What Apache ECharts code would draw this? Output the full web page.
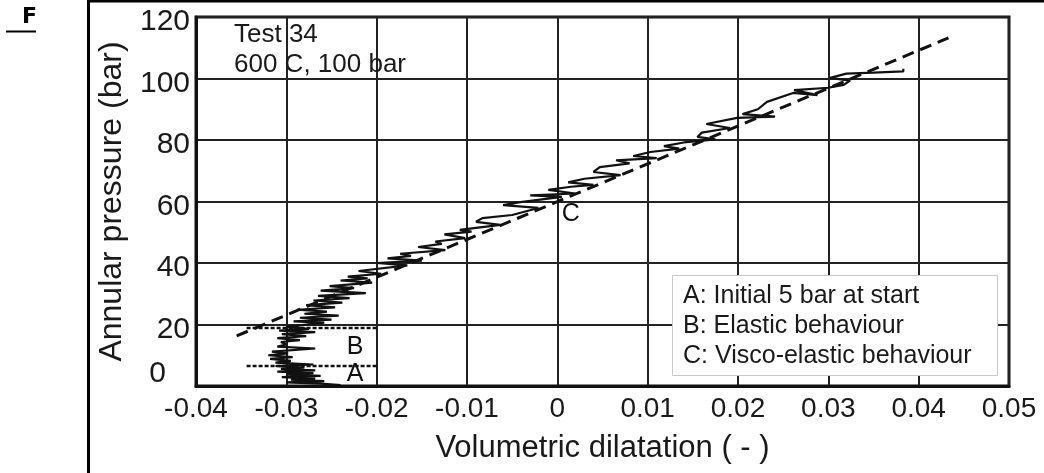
<!DOCTYPE html>
<html>
<head>
<meta charset="utf-8">
<script src="https://cdn.jsdelivr.net/npm/echarts@6/dist/echarts.min.js"></script>
<style>
html,body{margin:0;padding:0;background:#fff;}
#chart{width:1044px;height:473px;}
</style>
</head>
<body>
<div id="chart"></div>
<script>
// ---- data ----
const xTicks = [-0.04, -0.03, -0.02, -0.01, 0, 0.01, 0.02, 0.03, 0.04, 0.05];
const yTicks = [0, 20, 40, 60, 80, 100, 120];
const xTitle = 'Volumetric dilatation ( - )';
const yTitle = 'Annular pressure (bar)';
// measured curve: [volumetric dilatation, annular pressure]
const measuredCurve = [
  [-0.0240, 0.3], [-0.0262, 0.8], [-0.0300, 1.2], [-0.0258, 1.6], [-0.0295, 2.1],
  [-0.0268, 2.4], [-0.0305, 2.9], [-0.0262, 3.3], [-0.0300, 3.8], [-0.0270, 4.2],
  [-0.0310, 4.7], [-0.0268, 5.1], [-0.0306, 5.6], [-0.0280, 6.0], [-0.0312, 6.5],
  [-0.0270, 7.0], [-0.0312, 7.6], [-0.0295, 8.2], [-0.0318, 8.8], [-0.0293, 9.4],
  [-0.0320, 10.0], [-0.0298, 10.6], [-0.0316, 11.2], [-0.0268, 12.2], [-0.0310, 12.8],
  [-0.0300, 13.5], [-0.0306, 14.3], [-0.0285, 14.9], [-0.0310, 15.6], [-0.0278, 16.2],
  [-0.0305, 16.9], [-0.0268, 17.5], [-0.0308, 18.0], [-0.0275, 18.6], [-0.0300, 19.2],
  [-0.0258, 20.6], [-0.0292, 21.0], [-0.0250, 21.6], [-0.0285, 22.2], [-0.0242, 22.9],
  [-0.0280, 23.5], [-0.0255, 24.2], [-0.0288, 24.8], [-0.0246, 25.6], [-0.0278, 26.3],
  [-0.0238, 27.1], [-0.0270, 27.8], [-0.0230, 28.6], [-0.0265, 29.3], [-0.0212, 30.2],
  [-0.0262, 31.0], [-0.0225, 31.8], [-0.0252, 32.5], [-0.0205, 33.6], [-0.0240, 34.3],
  [-0.0210, 35.0], [-0.0232, 35.6], [-0.0195, 36.5], [-0.0220, 37.4], [-0.0166, 39.2],
  [-0.0200, 40.0], [-0.0150, 40.8], [-0.0188, 41.5], [-0.0162, 42.3], [-0.0174, 43.0],
  [-0.0124, 44.2], [-0.0154, 45.2], [-0.0128, 46.2], [-0.0135, 47.0], [-0.0102, 48.1],
  [-0.0125, 49.3], [-0.0095, 50.2], [-0.0108, 50.8], [-0.0063, 52.4], [-0.0090, 53.4],
  [-0.0083, 54.6], [-0.0050, 55.6], [-0.0021, 57.9], [-0.0060, 58.8], [-0.0041, 59.8],
  [0.0005, 61.5], [-0.0030, 62.0], [0.0020, 62.6], [-0.0010, 63.8], [0.0015, 64.8],
  [0.0040, 65.4], [0.0012, 66.2], [0.0030, 67.4], [0.0070, 68.6], [0.0040, 69.6],
  [0.0047, 71.2], [0.0080, 72.4], [0.0065, 73.4], [0.0110, 74.1], [0.0084, 74.8],
  [0.0103, 76.1], [0.0135, 77.2], [0.0118, 78.0], [0.0140, 79.2], [0.0175, 80.2],
  [0.0155, 81.0], [0.0160, 82.4], [0.0191, 83.9], [0.0165, 85.2], [0.0199, 87.2],
  [0.0241, 87.6], [0.0205, 88.4], [0.0222, 90.0], [0.0232, 92.4], [0.0261, 95.3],
  [0.0288, 94.6], [0.0262, 96.2], [0.0300, 97.0], [0.0317, 97.9], [0.0324, 99.3],
  [0.0302, 100.2], [0.0320, 101.6], [0.0350, 101.9], [0.0383, 102.3], [0.0383, 103.2]
];
const trendLine = [[-0.0355, 16.3], [0.0433, 113.2]];
const boundaryB = [[-0.0344, 18.9], [-0.0198, 18.9]];
const boundaryA = [[-0.0344, 6.5], [-0.0198, 6.5]];
const regionLabels = [[-0.0224, 3.9, 'A'], [-0.0224, 12.7, 'B'], [0.0015, 55.8, 'C']];
const legendLines = ['A: Initial 5 bar at start', 'B: Elastic behaviour', 'C: Visco-elastic behaviour'];
const testInfo = ['Test 34', '600 C, 100 bar'];
const panelLetter = 'F';

// ---- chart ----
const FONT = '"Liberation Sans", Arial, Helvetica, sans-serif';
const INK = '#1a1a1a';
const chart = echarts.init(document.getElementById('chart'), null, {renderer: 'canvas'});
const fmtX = v => { const r = Math.round(v * 100) / 100; return r === 0 ? '0' : String(r); };

const option = {
  animation: false,
  backgroundColor: '#fff',
  grid: {left: 196, top: 17, width: 813, height: 369, show: true, borderColor: '#111', borderWidth: 3, backgroundColor: 'transparent'},
  xAxis: {
    type: 'value', min: xTicks[0], max: xTicks[xTicks.length - 1], interval: 0.01,
    name: xTitle, nameLocation: 'middle', nameGap: 47,
    nameTextStyle: {fontFamily: FONT, fontSize: 31, color: INK},
    axisLine: {show: true, onZero: false, lineStyle: {color: '#111', width: 3}},
    axisTick: {show: false},
    splitLine: {show: true, lineStyle: {color: '#222', width: 2}},
    axisLabel: {fontFamily: FONT, fontSize: 28, color: INK, margin: 9, formatter: fmtX, showMinLabel: true, showMaxLabel: true}
  },
  yAxis: {
    type: 'value', min: yTicks[0], max: yTicks[yTicks.length - 1], interval: 20,
    name: yTitle, nameLocation: 'middle', nameGap: 68,
    nameTextStyle: {fontFamily: FONT, fontSize: 32, color: INK},
    axisLine: {show: true, onZero: false, lineStyle: {color: '#111', width: 3}},
    axisTick: {show: false},
    splitLine: {show: true, lineStyle: {color: '#222', width: 2}},
    axisLabel: {
      fontFamily: FONT, fontSize: 30, color: INK, margin: 6,
      formatter: v => v === 0 ? '{z|0}' : '{n|' + v + '}',
      rich: {
        n: {fontFamily: FONT, fontSize: 30, color: INK, padding: [10, 0, 0, 0]},
        z: {fontFamily: FONT, fontSize: 30, color: INK, padding: [0, 24, 24, 0]}
      }
    }
  },
  series: [
    {type: 'line', data: measuredCurve, showSymbol: false, symbol: 'none', lineStyle: {color: '#111', width: 2.2}, z: 3},
    {type: 'line', data: trendLine, showSymbol: false, symbol: 'none', lineStyle: {color: '#111', width: 3, type: [12, 7]}, z: 4},
    {type: 'line', data: boundaryB, showSymbol: false, symbol: 'none', lineStyle: {color: '#111', width: 2.5, type: [4, 2]}, z: 4},
    {type: 'line', data: boundaryA, showSymbol: false, symbol: 'none', lineStyle: {color: '#111', width: 2.5, type: [4, 2]}, z: 4},
    {type: 'scatter', data: regionLabels, symbolSize: 0, silent: true, z: 5,
      itemStyle: {opacity: 1},
      label: {show: true, position: 'inside', formatter: p => p.data[2], fontFamily: FONT, fontSize: 25, color: '#111', opacity: 1, textBorderWidth: 0}}
  ],
  graphic: [
    {type: 'line', shape: {x1: 88, y1: 1, x2: 1044, y2: 1}, style: {stroke: '#000', lineWidth: 3}},
    {type: 'line', shape: {x1: 88.5, y1: 0, x2: 88.5, y2: 473}, style: {stroke: '#000', lineWidth: 3}},
    {type: 'text', left: 22, top: 6, style: {text: panelLetter, font: 'bold 22px "DejaVu Sans", sans-serif', fill: '#000'}},
    {type: 'line', shape: {x1: 6, y1: 31.5, x2: 36, y2: 31.5}, style: {stroke: '#000', lineWidth: 2}},
    {type: 'text', x: 234, y: 35, z: 50, style: {text: testInfo[0], fontFamily: FONT, fontSize: 26, fill: INK, verticalAlign: 'middle'}},
    {type: 'text', x: 234, y: 65, z: 50, style: {text: testInfo[1], fontFamily: FONT, fontSize: 26, fill: INK, verticalAlign: 'middle'}},
    {type: 'rect', z: 60, shape: {x: 672.5, y: 275.5, width: 325, height: 100}, style: {fill: '#fff', stroke: '#c8c8c8', lineWidth: 1}},
    {type: 'text', x: 683, y: 296, z: 61, style: {text: legendLines[0], fontFamily: FONT, fontSize: 25, fill: INK, verticalAlign: 'middle'}},
    {type: 'text', x: 683, y: 326, z: 61, style: {text: legendLines[1], fontFamily: FONT, fontSize: 25, fill: INK, verticalAlign: 'middle'}},
    {type: 'text', x: 683, y: 356, z: 61, style: {text: legendLines[2], fontFamily: FONT, fontSize: 25, fill: INK, verticalAlign: 'middle'}}
  ]
};
chart.setOption(option);
</script>
</body>
</html>
